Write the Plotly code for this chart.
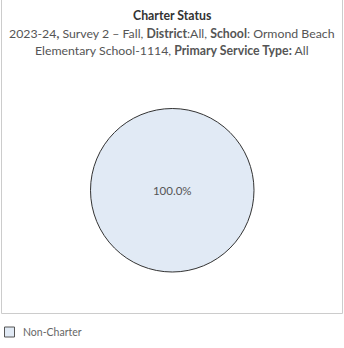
import plotly.graph_objects as go

# Charter status breakdown
labels = ["Non-Charter"]
values = [100.0]
colors = ["#e1eaf5"]

W, H = 344, 348


def px_x(x):
    return x / W


def px_y(y):
    return 1 - y / H


fig = go.Figure(
    go.Pie(
        labels=labels,
        values=values,
        marker=dict(colors=colors, line=dict(color="#333333", width=1)),
        texttemplate="%{percent:.1%}",
        textposition="inside",
        insidetextorientation="horizontal",
        textfont=dict(family="Lato", size=11.5, color="#555555"),
        sort=False,
        hoverinfo="label+percent",
        showlegend=False,
        domain=dict(x=[px_x(90.5), px_x(254)], y=[px_y(272), px_y(108.5)]),
    )
)

title_font = "Lato"
fig.add_annotation(
    x=0.5, y=px_y(16), xref="paper", yref="paper", showarrow=False,
    text="<b>Charter Status</b>",
    font=dict(family=title_font, size=12.3, color="#333333"), yanchor="middle",
)
fig.add_annotation(
    x=0.5, y=px_y(33), xref="paper", yref="paper", showarrow=False,
    text="2023-24<b>,</b> Survey 2 \u2013 Fall, <b>District</b>:All, <b>School</b>: Ormond Beach",
    font=dict(family=title_font, size=12.3, color="#555555"), yanchor="middle",
)
fig.add_annotation(
    x=0.5, y=px_y(50), xref="paper", yref="paper", showarrow=False,
    text="Elementary School-1114, <b>Primary Service Type:</b> All",
    font=dict(family=title_font, size=12.3, color="#555555"), yanchor="middle",
)

# panel frame
fig.add_shape(
    type="rect", xref="paper", yref="paper",
    x0=px_x(1.5), x1=px_x(342.5), y0=px_y(313.5), y1=px_y(-2),
    line=dict(color="#cccccc", width=1), fillcolor="rgba(0,0,0,0)",
)

# colour legend below the panel
for i, (lab, col) in enumerate(zip(labels, colors)):
    yc = 332 + i * 16
    fig.add_shape(
        type="rect", xref="paper", yref="paper",
        x0=px_x(4.5), x1=px_x(14.5), y0=px_y(yc + 5), y1=px_y(yc - 5),
        line=dict(color="#555555", width=1), fillcolor=col,
    )
    fig.add_annotation(
        x=px_x(21), y=px_y(yc), xref="paper", yref="paper", showarrow=False,
        text=lab, xanchor="left", yanchor="middle",
        font=dict(family="Lato", size=10.5, color="#666666"),
    )

fig.update_layout(
    width=W, height=H,
    margin=dict(l=0, r=0, t=0, b=0),
    paper_bgcolor="white",
    plot_bgcolor="white",
    showlegend=False,
)

fig.write_html("out.html")
